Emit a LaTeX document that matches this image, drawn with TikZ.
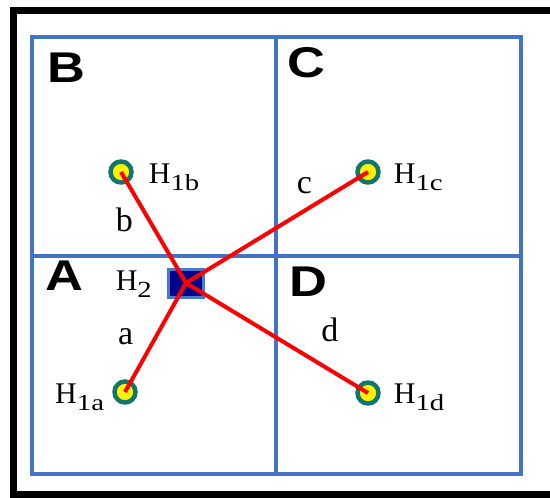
\documentclass[tikz,border=0pt]{standalone}
\usepackage{fontspec}
\setmainfont{Liberation Serif}
\newfontfamily\cellfont[FakeStretch=1.22]{Liberation Sans}
\newfontfamily\subfont[FakeStretch=1.25]{Liberation Serif}
\usetikzlibrary{positioning}

\definecolor{gridblue}{RGB}{68,114,196}
\definecolor{ringteal}{RGB}{18,118,110}
\definecolor{hubnavy}{RGB}{0,0,140}
\definecolor{hubedge}{RGB}{72,122,204}

\newcommand{\hname}[1]{H\raisebox{-7pt}{\subfont\fontsize{23}{23}\selectfont #1}}

\begin{document}
\begin{tikzpicture}[
  x=1pt, y=-1pt,
  site/.style={circle, draw=ringteal, fill=yellow, line width=4.5pt,
               minimum size=21pt, inner sep=0pt},
  hub/.style={rectangle, draw=hubedge, fill=hubnavy, line width=3pt,
              minimum width=35pt, minimum height=28pt, inner sep=0pt},
  lab/.style={font=\fontsize{30}{30}\selectfont, text=black, inner sep=0pt},
  linklab/.style={font=\fontsize{34}{34}\selectfont, text=black, inner sep=0pt},
  cell/.style={font=\cellfont\bfseries\fontsize{43}{43}\selectfont,
               inner sep=0pt, anchor=north west},
  link/.style={red, line width=4pt},
  frame/.style={line width=7pt},
  gridline/.style={gridblue, line width=3.5pt}
]
\useasboundingbox (0,0) rectangle (550,498);

% outer frame and grid
\draw[frame] (550,10.5) -- (13.5,10.5) -- (13.5,494) -- (550,494);
\draw[gridline] (32,37) rectangle (521,474);
\draw[gridline] (276,37) -- (276,474);
\draw[gridline] (32,256) -- (521,256);

% cell letters
\node[cell] (cb) at (47,53)  {B};
\node[cell] (cc) at (287,47) {C};
\node[cell] (ca) at (45,261) {A};
\node[cell] (cd) at (289,267) {D};

% sites and hub
\node[site] (h1b) at (121,172) {};
\node[site] (h1c) at (368,172) {};
\node[site] (h1a) at (125,392) {};
\node[site] (h1d) at (368,393) {};
\node[hub]  (h2)  at (186,283) {};

\node[lab, right=15pt of h1b, anchor=base west, yshift=-11pt] (lb) {\hname{1b}};
\node[lab, right=13pt of h1c, anchor=base west, yshift=-11pt] (lc) {\hname{1c}};
\node[lab, left=8pt of h1a, anchor=base east, yshift=-11pt]   (la) {\hname{1a}};
\node[lab, right=13pt of h1d, anchor=base west, yshift=-10pt] (ld) {\hname{1d}};
\node[lab, left=15pt of h2, anchor=base east, yshift=-7pt]    (l2) {\hname{2}};

% links
\draw[link] (h2.center) -- node[pos=0.57, left=14pt, linklab] {b} (h1b.center);
\draw[link] (h2.center) -- node[pos=0.65, above=15pt, linklab] {c} (h1c.center);
\draw[link] (h2.center) -- node[pos=0.49, left=21pt, linklab] {a} (h1a.center);
\draw[link] (h2.center) -- node[pos=0.79, above=26pt, linklab] {d} (h1d.center);
\end{tikzpicture}
\end{document}
